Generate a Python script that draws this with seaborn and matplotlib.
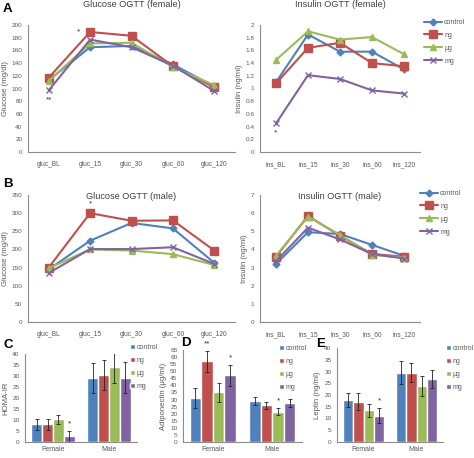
import numpy as np
import pandas as pd
import matplotlib
matplotlib.use('Agg')
import matplotlib.pyplot as plt
import seaborn as sns

# ---- data ----
groups = ['control', 'ng', 'μg', 'mg']
gluc_times = ['gluc_BL', 'gluc_15', 'gluc_30', 'gluc_60', 'gluc_120']
ins_times = ['ins_BL', 'ins_15', 'ins_30', 'ins_60', 'ins_120']

glucose_female = {
    'control': [113, 165, 167, 138, 103],
    'ng': [117, 189, 183, 135, 102],
    'μg': [112, 171, 172, 134, 105],
    'mg': [97, 177, 165, 136, 96],
}
insulin_female = {
    'control': [1.10, 1.85, 1.58, 1.58, 1.30],
    'ng': [1.08, 1.64, 1.72, 1.40, 1.35],
    'μg': [1.45, 1.90, 1.77, 1.81, 1.54],
    'mg': [0.45, 1.21, 1.15, 0.97, 0.92],
}
glucose_male = {
    'control': [145, 224, 273, 258, 163],
    'ng': [150, 300, 279, 280, 197],
    'μg': [148, 200, 197, 187, 157],
    'mg': [135, 201, 201, 206, 160],
}
insulin_male = {
    'control': [3.20, 4.95, 4.85, 4.25, 3.65],
    'ng': [3.60, 5.85, 4.75, 3.75, 3.60],
    'μg': [3.65, 5.80, 4.80, 3.70, 3.55],
    'mg': [3.35, 5.20, 4.55, 3.75, 3.50],
}

sexes = ['Female', 'Male']
homa_mean = {'control': [8.0, 29.2], 'ng': [8.0, 30.5], 'μg': [10.3, 34.0], 'mg': [2.7, 29.3]}
homa_err = {'control': [2.5, 6.7], 'ng': [2.5, 6.7], 'μg': [2.2, 7.0], 'mg': [2.5, 7.0]}
adipo_mean = {'control': [31.0, 29.0], 'ng': [57.0, 26.0], 'μg': [35.0, 21.5], 'mg': [47.0, 27.5]}
adipo_err = {'control': [7.0, 3.0], 'ng': [7.5, 2.5], 'μg': [6.5, 2.5], 'mg': [7.5, 3.0]}
leptin_mean = {'control': [18.0, 29.5], 'ng': [17.2, 29.5], 'μg': [13.5, 23.8], 'mg': [11.2, 26.8]}
leptin_err = {'control': [3.0, 5.0], 'ng': [3.5, 4.0], 'μg': [2.8, 4.3], 'mg': [3.2, 4.0]}

colors = ['#4F81BD', '#C0504D', '#9BBB59', '#8064A2']
markers = ['D', 's', '^', 'x']
marker_sizes = [3.5, 5.2, 5, 5]
palette = dict(zip(groups, colors))

sns.set_theme(style='white')
plt.rcParams['font.family'] = ['Liberation Sans', 'DejaVu Sans']
AX_COL = '#8c8c8c'
TXT_COL = '#595959'

W, H = 474, 458
fig = plt.figure(figsize=(W / 100, H / 100), dpi=100)


def px_axes(left, top, right, bottom):
    return fig.add_axes([left / W, 1 - bottom / H, (right - left) / W, (bottom - top) / H])


def style_axes(ax, ymax, ystep, ncat):
    ax.set_ylim(0, ymax)
    ax.set_yticks(np.arange(0, ymax + ystep / 2, ystep))
    ax.yaxis.set_major_formatter(matplotlib.ticker.FuncFormatter(lambda v, p: f'{v:g}'))
    ax.set_xlim(-0.5, ncat - 0.5)
    ax.set_xticks(np.arange(-0.5, ncat, 1.0))
    ax.set_xticklabels([])
    for s in ['top', 'right']:
        ax.spines[s].set_visible(False)
    for s in ['left', 'bottom']:
        ax.spines[s].set_color(AX_COL)
        ax.spines[s].set_linewidth(0.8)
    ax.tick_params(axis='both', which='major', direction='out', length=2.5, width=0.6,
                   colors=AX_COL, labelcolor=TXT_COL, labelsize=4.6, pad=1.5)
    ax.tick_params(axis='x', which='major', length=3)
    ax.set_xlabel('')
    ax.grid(False)


def line_panel(ax, data, times, ymax, ystep, title, ylabel, title_y):
    handles = []
    for g, col, mk, ms in zip(groups, colors, markers, marker_sizes):
        df = pd.DataFrame({'pos': np.arange(len(times)), 'value': data[g]})
        sns.lineplot(data=df, x='pos', y='value', color=col, marker=mk, markersize=ms,
                     markeredgecolor=col, markeredgewidth=1.0, linewidth=1.5, ax=ax,
                     label=g, legend=False)
        handles.append(ax.lines[-1])
    style_axes(ax, ymax, ystep, len(times))
    for i, t in enumerate(times):
        ax.text(i, -0.07, t, transform=ax.get_xaxis_transform(), ha='center', va='top',
                fontsize=4.8, color=TXT_COL)
    ax.set_ylabel(ylabel, fontsize=5.6, color=TXT_COL, labelpad=2)
    ax.text(0.5, title_y, title, transform=ax.transAxes, ha='center', va='center',
            fontsize=6.6, color='#404040')
    return handles, list(groups)


def add_line_legend(handles, labels, x, y):
    leg = fig.legend(handles, labels, loc='upper left', bbox_to_anchor=(x / W, 1 - y / H),
                     frameon=False, fontsize=5, handlelength=2.6, handletextpad=0.3,
                     labelspacing=0.85, borderpad=0, borderaxespad=0)
    for t in leg.get_texts():
        t.set_color(TXT_COL)


def bar_panel(ax, means, errs, ymax, ystep, ylabel):
    rows = []
    for g in groups:
        for i, s in enumerate(sexes):
            rows.append({'sex': s, 'value': means[g][i], 'group': g})
    df = pd.DataFrame(rows)
    sns.barplot(data=df, x='sex', y='value', hue='group', palette=palette, width=0.78,
                saturation=1, ax=ax, legend=True, errorbar=None)
    handles, labels = ax.get_legend_handles_labels()
    ax.get_legend().remove()
    centers = {}
    for g, cont in zip(groups, ax.containers):
        xs = [b.get_x() + b.get_width() / 2 for b in cont]
        centers[g] = xs
        ax.errorbar(xs, means[g], yerr=errs[g], fmt='none', ecolor='#222222',
                    elinewidth=0.6, capsize=1.6, capthick=0.6)
    style_axes(ax, ymax, ystep, len(sexes))
    for i, s in enumerate(sexes):
        ax.text(i, -0.045, s, transform=ax.get_xaxis_transform(), ha='center', va='top',
                fontsize=5, color=TXT_COL)
    ax.set_ylabel(ylabel, fontsize=5.6, color=TXT_COL, labelpad=2)
    return handles, labels, centers


def add_bar_legend(handles, labels, x, y):
    leg = fig.legend(handles, labels, loc='upper left', bbox_to_anchor=(x / W, 1 - y / H),
                     frameon=False, fontsize=5, handlelength=0.7, handleheight=0.7,
                     handletextpad=0.3, labelspacing=0.85, borderpad=0, borderaxespad=0)
    for t in leg.get_texts():
        t.set_color(TXT_COL)


def star(ax, x, y, s, dy_pt=0):
    ax.annotate(s, (x, y), xytext=(0, dy_pt), textcoords='offset points', ha='center',
                va='center', fontsize=6, color='#333333')


# ---- A ----
ax1 = px_axes(28, 25, 235, 152)
h, l = line_panel(ax1, glucose_female, gluc_times, 200, 20, 'Glucose OGTT (female)',
                  'Glucose (mg/dl)', 1.16)
ax1.annotate('*', (1, glucose_female['ng'][1]), xytext=(-8, 0), textcoords='offset points',
             ha='center', va='center', fontsize=6, color='#333333')
star(ax1, 0, glucose_female['mg'][0], '**', -7)

ax2 = px_axes(260, 25, 420, 152)
h, l = line_panel(ax2, insulin_female, ins_times, 2, 0.2, 'Insulin OGTT (female)',
                  'Insulin (ng/ml)', 1.16)
star(ax2, 0, insulin_female['mg'][0], '*', -7)
add_line_legend(h, l, 424, 19)

# ---- B ----
ax3 = px_axes(28, 195, 235, 322)
line_panel(ax3, glucose_male, gluc_times, 350, 50, 'Glucose OGTT (male)',
           'Glucose (mg/dl)', 0.985)
star(ax3, 1, glucose_male['ng'][1], '*', 7)

ax4 = px_axes(260, 195, 420, 322)
h, l = line_panel(ax4, insulin_male, ins_times, 7, 1, 'Insulin OGTT (male)',
                  'Insulin (ng/ml)', 0.985)
add_line_legend(h, l, 420, 190)

# ---- C, D, E ----
ax5 = px_axes(25, 354, 137, 442)
h, l, c = bar_panel(ax5, homa_mean, homa_err, 40, 5, 'HOMA-IR')
star(ax5, c['mg'][0], homa_mean['mg'][0] + homa_err['mg'][0], '*', 5)
add_bar_legend(h, l, 130, 344)

ax6 = px_axes(183, 350, 302, 442)
h, l, c = bar_panel(ax6, adipo_mean, adipo_err, 65, 5, 'Adiponectin (μg/ml)')
star(ax6, c['ng'][0], adipo_mean['ng'][0] + adipo_err['ng'][0], '**', 5)
star(ax6, c['mg'][0], adipo_mean['mg'][0] + adipo_err['mg'][0], '*', 5)
star(ax6, c['μg'][1], adipo_mean['μg'][1] + adipo_err['μg'][1], '*', 5)
add_bar_legend(h, l, 279, 345)

ax7 = px_axes(337, 348, 443, 442)
h, l, c = bar_panel(ax7, leptin_mean, leptin_err, 40, 5, 'Leptin (ng/ml)')
star(ax7, c['mg'][0], leptin_mean['mg'][0] + leptin_err['mg'][0], '*', 5)
add_bar_legend(h, l, 446, 345)

# panel letters
for letter, x, y in [('A', 3, 9), ('B', 3, 184), ('C', 3, 345), ('D', 181, 343), ('E', 316, 344)]:
    fig.text(x / W, 1 - y / H, letter, fontsize=9.5, fontweight='bold', ha='left', va='center',
             color='black')

fig.savefig('out.png', dpi=100)
